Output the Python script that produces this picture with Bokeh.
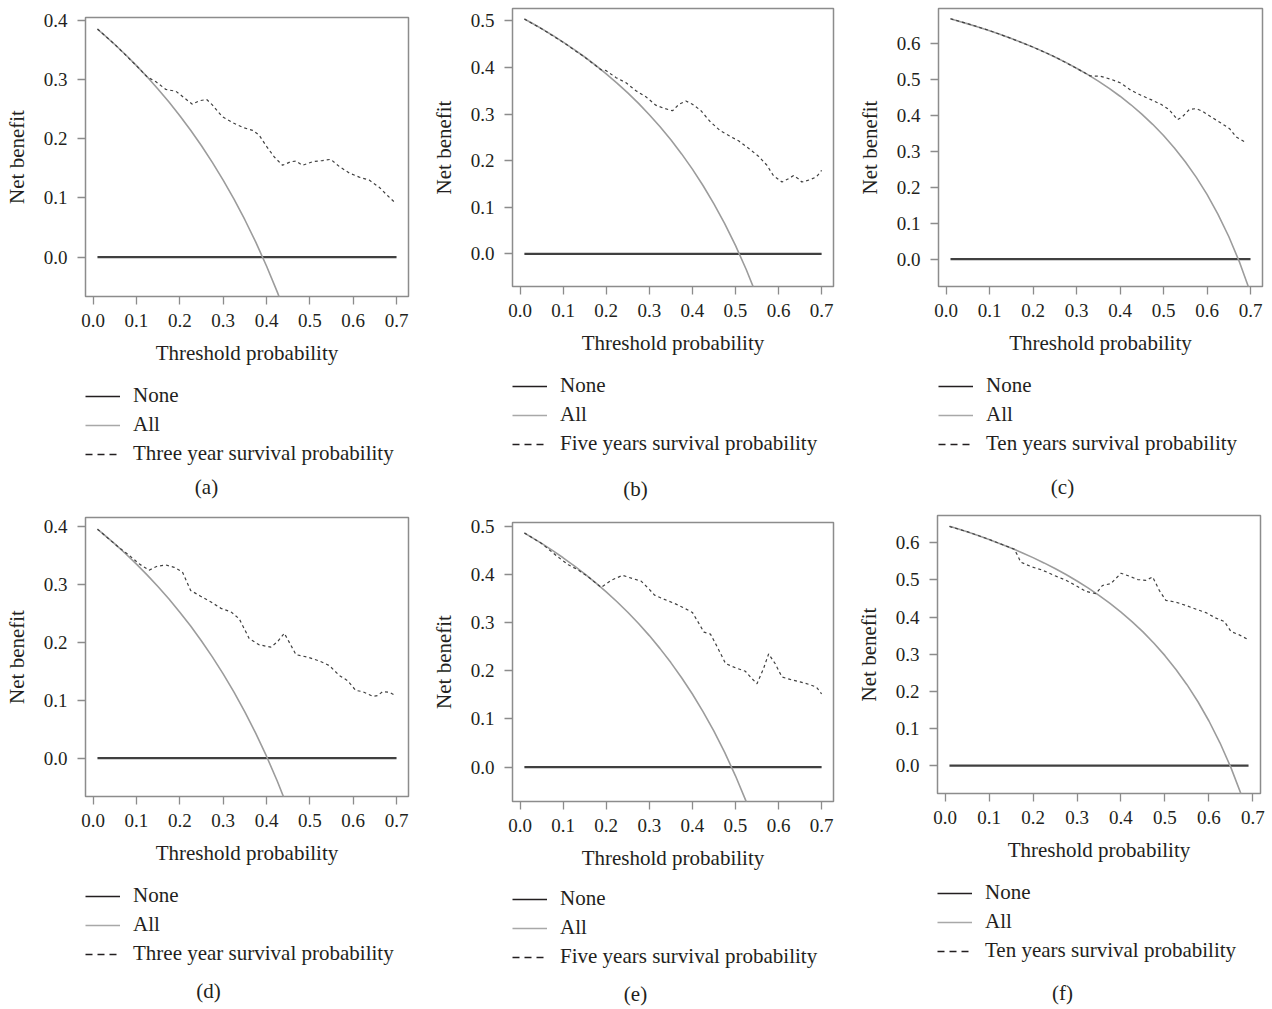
import numpy as np
from bokeh.plotting import figure
from bokeh.layouts import row, column
from bokeh.models import (Range1d, Legend, LegendItem, Label, FixedTicker,
                          PrintfTickFormatter, ColumnDataSource)
from bokeh.embed import file_html
from bokeh.resources import INLINE

SERIF = "Liberation Serif"
TXT = "#231f20"
FRAME = "#8c8c8c"

# ---------------- data ----------------
X_TICKS = [0.0, 0.1, 0.2, 0.3, 0.4, 0.5, 0.6, 0.7]

NONE_X = [0.01, 0.70]
NONE_X_F = [0.01, 0.69]
NONE_Y = [0.0, 0.0]

ALL_X = [0.01, 0.025, 0.05, 0.075, 0.10, 0.125, 0.15, 0.175, 0.20, 0.225,
         0.25, 0.275, 0.30, 0.325, 0.35, 0.375, 0.40, 0.425, 0.45, 0.475,
         0.50, 0.525, 0.55, 0.575, 0.60, 0.625, 0.65, 0.675, 0.70]

ALL_A = [0.3849, 0.3754, 0.3589, 0.3416, 0.3233, 0.3040, 0.2835, 0.2618, 0.2388,
         0.2142, 0.1880, 0.1600, 0.1300, 0.0978, 0.0631, 0.0256, -0.0150, -0.0591,
         -0.1073]
ALL_B = [0.5040, 0.4964, 0.4832, 0.4692, 0.4544, 0.4389, 0.4224, 0.4048, 0.3862,
         0.3665, 0.3453, 0.3228, 0.2986, 0.2726, 0.2446, 0.2144, 0.1817, 0.1461,
         0.1073, 0.0648, 0.0180, -0.0337, -0.0911]
ALL_C = [0.6687, 0.6636, 0.6547, 0.6454, 0.6356, 0.6251, 0.6141, 0.6024, 0.5900,
         0.5768, 0.5627, 0.5476, 0.5314, 0.5141, 0.4954, 0.4752, 0.4533, 0.4296,
         0.4036, 0.3752, 0.3440, 0.3095, 0.2711, 0.2282, 0.1800, 0.1253, 0.0629,
         -0.0092, -0.0933]
ALL_D = [0.3960, 0.3867, 0.3705, 0.3535, 0.3356, 0.3166, 0.2965, 0.2752, 0.2525,
         0.2284, 0.2027, 0.1752, 0.1457, 0.1141, 0.0800, 0.0432, 0.0033, -0.0400,
         -0.0873]
ALL_E = [0.4859, 0.4779, 0.4642, 0.4497, 0.4344, 0.4183, 0.4012, 0.3830, 0.3638,
         0.3432, 0.3213, 0.2979, 0.2729, 0.2459, 0.2169, 0.1856, 0.1517, 0.1148,
         0.0745, 0.0305, -0.0180, -0.0716, -0.1311]
ALL_F = [0.6444, 0.6390, 0.6295, 0.6195, 0.6089, 0.5977, 0.5859, 0.5733, 0.5600,
         0.5458, 0.5307, 0.5145, 0.4971, 0.4785, 0.4585, 0.4368, 0.4133, 0.3878,
         0.3600, 0.3295, 0.2960, 0.2589, 0.2178, 0.1718, 0.1200, 0.0613, -0.0057,
         -0.0831]

MODEL_A_X = [0.01, 0.05, 0.10, 0.125, 0.145, 0.168, 0.191, 0.21, 0.229, 0.245, 0.262,
             0.275, 0.298, 0.322, 0.345, 0.368, 0.383, 0.398, 0.418, 0.437, 0.456,
             0.468, 0.483, 0.506, 0.529, 0.548, 0.568, 0.591, 0.614, 0.637, 0.66,
             0.679, 0.698]
MODEL_A_Y = [0.385, 0.359, 0.323, 0.304, 0.296, 0.283, 0.280, 0.269, 0.258, 0.264, 0.266,
             0.257, 0.237, 0.227, 0.219, 0.214, 0.206, 0.189, 0.169, 0.155, 0.161,
             0.162, 0.155, 0.161, 0.163, 0.165, 0.153, 0.142, 0.135, 0.130, 0.118,
             0.104, 0.091]

MODEL_B_X = [0.01, 0.05, 0.10, 0.15, 0.188, 0.2, 0.223, 0.246, 0.269, 0.292, 0.315,
             0.335, 0.354, 0.369, 0.385, 0.4, 0.419, 0.442, 0.465, 0.488, 0.508,
             0.531, 0.554, 0.573, 0.588, 0.608, 0.623, 0.635, 0.646, 0.654, 0.673,
             0.688, 0.70]
MODEL_B_Y = [0.504, 0.483, 0.454, 0.422, 0.395, 0.393, 0.378, 0.367, 0.350, 0.337, 0.319,
             0.312, 0.307, 0.321, 0.328, 0.321, 0.308, 0.283, 0.264, 0.252, 0.242,
             0.226, 0.209, 0.190, 0.168, 0.154, 0.161, 0.168, 0.161, 0.154, 0.159,
             0.165, 0.179]

MODEL_C_X = [0.01, 0.05, 0.10, 0.15, 0.20, 0.25, 0.30, 0.331, 0.355, 0.378, 0.402,
             0.425, 0.448, 0.471, 0.494, 0.513, 0.532, 0.544, 0.559, 0.575, 0.59,
             0.609, 0.632, 0.652, 0.667, 0.69]
MODEL_C_Y = [0.669, 0.655, 0.636, 0.614, 0.590, 0.563, 0.531, 0.510, 0.509, 0.501, 0.490,
             0.470, 0.456, 0.444, 0.431, 0.416, 0.388, 0.397, 0.416, 0.419, 0.411,
             0.396, 0.379, 0.363, 0.340, 0.324]

MODEL_D_X = [0.01, 0.035, 0.06, 0.083, 0.106, 0.129, 0.148, 0.168, 0.187, 0.206, 0.225,
             0.248, 0.272, 0.295, 0.318, 0.337, 0.36, 0.383, 0.41, 0.425, 0.441,
             0.452, 0.468, 0.498, 0.522, 0.545, 0.568, 0.587, 0.606, 0.622, 0.645,
             0.656, 0.668, 0.683, 0.698]
MODEL_D_Y = [0.396, 0.380, 0.364, 0.351, 0.336, 0.325, 0.332, 0.334, 0.330, 0.322, 0.290,
             0.280, 0.270, 0.259, 0.253, 0.241, 0.207, 0.196, 0.192, 0.201, 0.216,
             0.201, 0.179, 0.174, 0.168, 0.160, 0.143, 0.134, 0.117, 0.115, 0.107,
             0.108, 0.115, 0.114, 0.108]

MODEL_E_X = [0.01, 0.05, 0.088, 0.112, 0.135, 0.158, 0.188, 0.212, 0.238, 0.262, 0.281,
             0.3, 0.312, 0.335, 0.358, 0.381, 0.4, 0.412, 0.427, 0.442, 0.458, 0.477,
             0.5, 0.523, 0.538, 0.55, 0.565, 0.577, 0.592, 0.608, 0.627, 0.65, 0.673,
             0.688, 0.7]
MODEL_E_Y = [0.486, 0.464, 0.436, 0.420, 0.409, 0.395, 0.373, 0.388, 0.398, 0.391, 0.386,
             0.369, 0.357, 0.348, 0.340, 0.330, 0.321, 0.303, 0.280, 0.276, 0.249, 0.215,
             0.206, 0.199, 0.184, 0.173, 0.204, 0.235, 0.215, 0.187, 0.182, 0.177, 0.171,
             0.166, 0.152]

MODEL_F_X = [0.01, 0.05, 0.10, 0.157, 0.165, 0.172, 0.195, 0.222, 0.248, 0.275, 0.297,
             0.32, 0.343, 0.358, 0.377, 0.4, 0.419, 0.438, 0.457, 0.472, 0.487, 0.502,
             0.525, 0.548, 0.571, 0.593, 0.616, 0.635, 0.65, 0.669, 0.688]
MODEL_F_Y = [0.644, 0.630, 0.609, 0.583, 0.566, 0.548, 0.536, 0.526, 0.512, 0.499, 0.485,
             0.469, 0.463, 0.485, 0.490, 0.518, 0.510, 0.501, 0.499, 0.508, 0.472, 0.445,
             0.440, 0.431, 0.421, 0.412, 0.397, 0.388, 0.361, 0.352, 0.340]

LABEL_3 = "Three year survival probability"
LABEL_5 = "Five years survival probability"
LABEL_10 = "Ten years survival probability"


def panel(w, h_total, main_h, bl, br, bt, xr, yr, yticks, none_x, all_y, mx, my,
          label, caption, leg_top, cap_x, cap_y):
    p = figure(width=w, height=main_h, x_range=Range1d(*xr), y_range=Range1d(*yr),
               output_backend="svg", toolbar_location=None,
               min_border_left=bl, min_border_right=br, min_border_top=bt,
               min_border_bottom=80, background_fill_color="white",
               border_fill_color="white")
    p.grid.visible = False
    p.outline_line_color = FRAME
    p.outline_line_width = 1.5

    p.xaxis.ticker = FixedTicker(ticks=X_TICKS)
    p.yaxis.ticker = FixedTicker(ticks=yticks)
    for ax in (p.xaxis, p.yaxis):
        ax.formatter = PrintfTickFormatter(format="%.1f")
        ax.axis_line_color = None
        ax.major_tick_out = 8
        ax.major_tick_in = 0
        ax.minor_tick_out = 0
        ax.minor_tick_in = 0
        ax.major_tick_line_color = FRAME
        ax.major_tick_line_width = 1.3
        ax.major_label_text_font = SERIF
        ax.major_label_text_font_size = "19px"
        ax.major_label_text_color = TXT
        ax.axis_label_text_font = SERIF
        ax.axis_label_text_font_size = "21px"
        ax.axis_label_text_font_style = "normal"
        ax.axis_label_text_color = TXT
    p.xaxis.axis_label = "Threshold probability"
    p.yaxis.axis_label = "Net benefit"
    p.xaxis.major_label_standoff = 9
    p.yaxis.major_label_standoff = 10
    p.xaxis.axis_label_standoff = 11
    p.yaxis.axis_label_standoff = 12

    p.line(none_x, NONE_Y, line_color="#404040", line_width=2.3)
    p.line(ALL_X[:len(all_y)], all_y, line_color="#9c9c9c", line_width=1.6)
    p.line(mx, my, line_color="#404040", line_width=1.2, line_dash="3 3")

    # legend + caption strip underneath the plot
    lh = h_total - main_h
    q = figure(width=w, height=lh, x_range=Range1d(0, 1), y_range=Range1d(0, 1),
               x_axis_type=None, y_axis_type=None, output_backend="svg",
               toolbar_location=None, min_border_left=bl, min_border_right=0,
               min_border_top=leg_top, min_border_bottom=0, outline_line_color=None,
               background_fill_color="white", border_fill_color="white")
    proxy = dict(x=np.array([np.nan]), y=np.array([np.nan]))
    l1 = q.line("x", "y", source=ColumnDataSource(proxy), line_color=TXT, line_width=1.4)
    l2 = q.line("x", "y", source=ColumnDataSource(proxy), line_color="#a8a8a8",
                line_width=1.4)
    l3 = q.line("x", "y", source=ColumnDataSource(proxy), line_color=TXT, line_width=1.3,
                line_dash="7 5")
    leg = Legend(items=[LegendItem(label="None", renderers=[l1]),
                        LegendItem(label="All", renderers=[l2]),
                        LegendItem(label=label, renderers=[l3])],
                 location="top_left", margin=0, padding=0, spacing=4,
                 label_height=20, glyph_height=20, glyph_width=35, label_standoff=13,
                 label_text_font=SERIF, label_text_font_size="21px",
                 label_text_color=TXT, border_line_color=None,
                 background_fill_alpha=0)
    q.add_layout(leg)
    q.add_layout(Label(x=cap_x, y=cap_y, x_units="screen", y_units="screen",
                       text=caption, text_align="center", text_baseline="middle",
                       text_font=SERIF, text_font_size="21px", text_color=TXT))
    return column(p, q)


XR = (-0.0176, 0.7276)
XR_F = (-0.0172, 0.7172)

ca = panel(420, 503, 376, 85, 12, 17, XR, (-0.0665, 0.4045), [0.0, 0.1, 0.2, 0.3, 0.4],
           NONE_X, ALL_A, MODEL_A_X, MODEL_A_Y, LABEL_3, "(a)", 7, 121, 17)
cb = panel(420, 503, 366, 92, 7, 8, XR, (-0.0702, 0.5265),
           [0.0, 0.1, 0.2, 0.3, 0.4, 0.5],
           NONE_X, ALL_B, MODEL_B_X, MODEL_B_Y, LABEL_5, "(b)", 7, 123, 15)
cc = panel(428, 503, 366, 98, 6, 8, XR, (-0.0762, 0.6975),
           [0.0, 0.1, 0.2, 0.3, 0.4, 0.5, 0.6],
           NONE_X, ALL_C, MODEL_C_X, MODEL_C_Y, LABEL_10, "(c)", 7, 124, 17)
cd = panel(420, 503, 373, 85, 12, 14, XR, (-0.0664, 0.4162), [0.0, 0.1, 0.2, 0.3, 0.4],
           NONE_X, ALL_D, MODEL_D_X, MODEL_D_Y, LABEL_3, "(d)", 7, 123, 16)
ce = panel(420, 503, 378, 92, 7, 19, XR, (-0.0713, 0.5076),
           [0.0, 0.1, 0.2, 0.3, 0.4, 0.5],
           NONE_X, ALL_E, MODEL_E_X, MODEL_E_Y, LABEL_5, "(e)", 5, 123, 13)
cf = panel(428, 503, 370, 97, 8, 12, XR_F, (-0.0753, 0.6735),
           [0.0, 0.1, 0.2, 0.3, 0.4, 0.5, 0.6],
           NONE_X_F, ALL_F, MODEL_F_X, MODEL_F_Y, LABEL_10, "(f)", 7, 125, 14)

layout = column(row(ca, cb, cc), row(cd, ce, cf))
open("out.html", "w").write(file_html(layout, INLINE))
